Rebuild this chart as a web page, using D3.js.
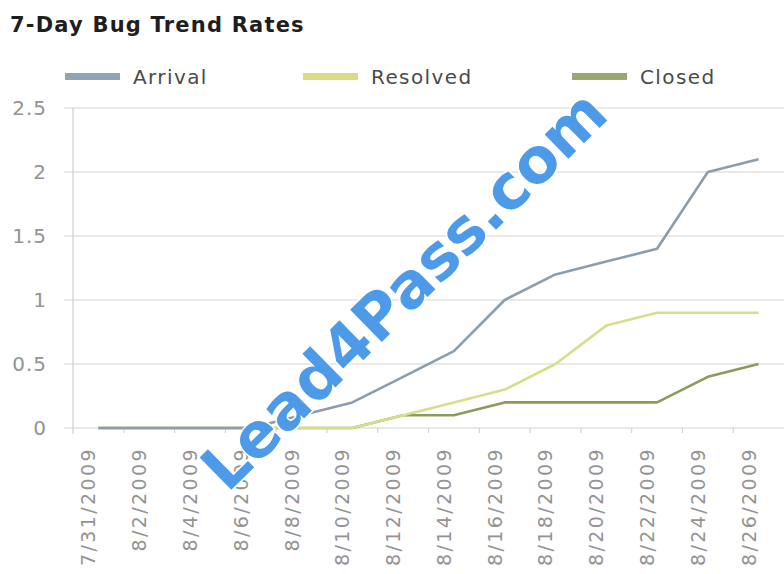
<!DOCTYPE html>
<html>
<head>
<meta charset="utf-8">
<script src="https://cdn.jsdelivr.net/npm/d3@7"></script>
<style>
  html, body { margin: 0; padding: 0; background: #fff; }
  svg { display: block; }
</style>
</head>
<body>
<svg id="chart" width="784" height="574"></svg>
<script>
const dates = ["7/31/2009","8/2/2009","8/4/2009","8/6/2009","8/8/2009","8/10/2009","8/12/2009",
               "8/14/2009","8/16/2009","8/18/2009","8/20/2009","8/22/2009","8/24/2009","8/26/2009"];
const arrival  = [0, 0, 0, 0, 0.1, 0.2, 0.4, 0.6, 1.0, 1.2, 1.3, 1.4, 2.0, 2.1];
const resolved = [0, 0, 0, 0, 0, 0, 0.1, 0.2, 0.3, 0.5, 0.8, 0.9, 0.9, 0.9];
const closed   = [0, 0, 0, 0, 0, 0, 0.1, 0.1, 0.2, 0.2, 0.2, 0.2, 0.4, 0.5];
const yTicks = [0, 0.5, 1, 1.5, 2, 2.5];
const yTickLabels = ["0", "0.5", "1", "1.5", "2", "2.5"];
const seriesNames = ["Arrival", "Resolved", "Closed"];
const title = "7-Day Bug Trend Rates";

const colors = { Arrival: "#8c9dab", Resolved: "#d8dd8e", Closed: "#8a9c5c" };
const legendColors = { Arrival: "#8fa4b4", Resolved: "#d9dc86", Closed: "#97a870" };

const series = [
  { name: "Arrival", values: arrival },
  { name: "Resolved", values: resolved },
  { name: "Closed", values: closed }
];

const svg = d3.select("#chart");
const font = "'DejaVu Sans', Verdana, sans-serif";

const x = d3.scaleBand().domain(dates).range([73, 784]).paddingInner(0).paddingOuter(0);
const y = d3.scaleLinear().domain([0, 2.5]).range([428, 108]);

// Title
svg.append("text")
  .attr("x", 10).attr("y", 32)
  .attr("font-family", font).attr("font-weight", "bold")
  .attr("font-size", 21).attr("fill", "#1e1e1e")
  .attr("letter-spacing", 1.2)
  .text(title);

// Gridlines
svg.append("g").selectAll("line").data(yTicks).join("line")
  .attr("x1", 64).attr("x2", 784)
  .attr("y1", d => y(d)).attr("y2", d => y(d))
  .attr("stroke", "#d4d4d4").attr("stroke-width", 1.2);

// Left axis
const yAxis = d3.axisLeft(y).tickValues(yTicks)
  .tickFormat((d, i) => yTickLabels[i]).tickSize(0).tickPadding(26);
const gy = svg.append("g").attr("transform", "translate(73,0)").call(yAxis);
gy.select(".domain").attr("stroke", "#cfcfcf").attr("stroke-width", 1.2)
  .attr("d", `M0,${y(2.5)}V${y(0) + 6}`);
gy.selectAll("text").attr("font-family", font).attr("font-size", 20)
  .attr("fill", "#939393").attr("letter-spacing", 1);

// Bottom tick marks at category boundaries
svg.append("g").selectAll("line").data(dates.slice(1)).join("line")
  .attr("x1", d => x(d)).attr("x2", d => x(d))
  .attr("y1", y(0)).attr("y2", y(0) + 5)
  .attr("stroke", "#d4d4d4").attr("stroke-width", 1.2);

// X labels (rotated)
svg.append("g").selectAll("text").data(dates).join("text")
  .attr("transform", d => `translate(${x(d) + x.bandwidth() / 2 - 3},${447}) rotate(-90)`)
  .attr("text-anchor", "end")
  .attr("font-family", font).attr("font-size", 19)
  .attr("fill", "#939393").attr("letter-spacing", 2.4)
  .text(d => d);

// Lines
const line = d3.line()
  .x((v, i) => x(dates[i]) + x.bandwidth() / 2)
  .y(v => y(v));

svg.append("g").selectAll("path").data(series.slice().reverse()).join("path")
  .attr("d", s => line(s.values))
  .attr("fill", "none")
  .attr("stroke", s => colors[s.name])
  .attr("stroke-width", 2.6)
  .attr("stroke-linejoin", "round");

// Legend
const legendX = [65, 303, 572];
const lg = svg.append("g").selectAll("g").data(seriesNames).join("g")
  .attr("transform", (d, i) => `translate(${legendX[i]},0)`);
lg.append("rect").attr("x", 0).attr("y", 73).attr("width", 55).attr("height", 7)
  .attr("fill", d => legendColors[d]);
lg.append("text").attr("x", 68).attr("y", 84)
  .attr("font-family", font).attr("font-size", 20)
  .attr("fill", "#4a4a4a").attr("letter-spacing", 1.4)
  .text(d => d);

// Watermark
svg.append("text")
  .attr("transform", "translate(404,290) rotate(-44.5)")
  .attr("text-anchor", "middle").attr("dominant-baseline", "central")
  .attr("font-family", font).attr("font-weight", "bold").attr("font-size", 62)
  .attr("fill", "#4d9be8").attr("stroke", "#ffffff").attr("stroke-width", 3)
  .attr("paint-order", "stroke")
  .text("Lead4Pass.com");
</script>
</body>
</html>
